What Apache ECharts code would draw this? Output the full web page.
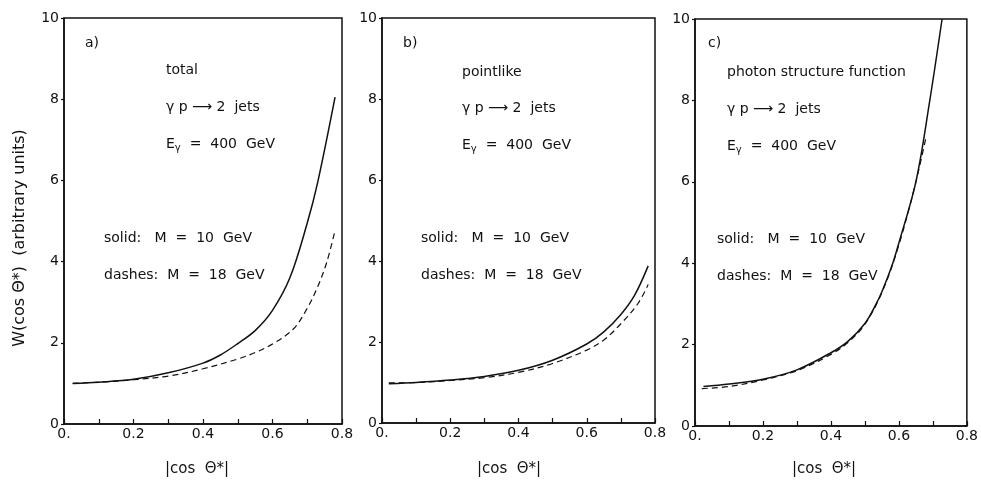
<!DOCTYPE html>
<html>
<head>
<meta charset="utf-8">
<script src="https://cdn.jsdelivr.net/npm/echarts@6/dist/echarts.min.js"></script>
<style>
  html, body { margin: 0; background: #fff; }
  #chart { width: 981px; height: 481px; }
</style>
</head>
<body>
<div id="chart"></div>
<script>
// axis ticks
const xTickValues = [0, 0.2, 0.4, 0.6, 0.8];
const yTickValues = [0, 2, 4, 6, 8, 10];

// a) total
const totalSolidX = [0.025, 0.1, 0.2, 0.3, 0.4, 0.45, 0.5, 0.55, 0.6, 0.65, 0.7, 0.73, 0.78];
const totalSolidY = [1.0, 1.03, 1.1, 1.26, 1.5, 1.7, 1.98, 2.3, 2.8, 3.6, 4.95, 5.95, 8.05];
const totalDashX = [0.025, 0.1, 0.2, 0.3, 0.4, 0.5, 0.55, 0.6, 0.66, 0.7, 0.73, 0.756, 0.778];
const totalDashY = [1.0, 1.03, 1.09, 1.18, 1.36, 1.6, 1.76, 1.97, 2.34, 2.85, 3.38, 3.98, 4.7];

// b) pointlike
const pointSolidX = [0.02, 0.1, 0.2, 0.3, 0.4, 0.5, 0.6, 0.65, 0.7, 0.74, 0.78];
const pointSolidY = [0.97, 1.0, 1.06, 1.15, 1.3, 1.55, 1.95, 2.25, 2.68, 3.15, 3.88];
const pointDashX = [0.02, 0.1, 0.2, 0.3, 0.4, 0.5, 0.6, 0.65, 0.7, 0.75, 0.78];
const pointDashY = [0.99, 1.0, 1.05, 1.12, 1.25, 1.47, 1.8, 2.05, 2.45, 2.95, 3.42];

// c) photon structure function
const structSolidX = [0.025, 0.1, 0.2, 0.3, 0.4, 0.45, 0.5, 0.53, 0.55, 0.58, 0.6, 0.65, 0.69, 0.727];
const structSolidY = [0.97, 1.03, 1.15, 1.38, 1.8, 2.08, 2.52, 2.95, 3.3, 3.95, 4.5, 6.0, 7.95, 10.0];
const structDashX = [0.02, 0.1, 0.2, 0.3, 0.4, 0.45, 0.5, 0.55, 0.6, 0.65, 0.68];
const structDashY = [0.92, 0.97, 1.13, 1.36, 1.76, 2.05, 2.5, 3.28, 4.45, 6.0, 7.1];

const panelLabels = ["a)", "b)", "c)"];
const panelTitles = ["total", "pointlike", "photon structure function"];

const zip = (xs, ys) => xs.map((x, i) => [x, ys[i]]);
const font = "DejaVu Sans";

const grids = [
  { left: 64, top: 18, width: 278, height: 406 },
  { left: 382, top: 18, width: 273, height: 405 },
  { left: 695, top: 19, width: 277, height: 407 },
].map((g) => ({ ...g, show: true, borderColor: "#111", borderWidth: 1.5 }));

const xAxes = grids.map((g, i) => ({
  type: "value",
  gridIndex: i,
  min: 0,
  max: 0.8,
  interval: 0.1,
  axisLine: { lineStyle: { color: "#111", width: 1.5 } },
  axisTick: { inside: true, length: 5, lineStyle: { color: "#111", width: 1.2 } },
  splitLine: { show: false },
  axisLabel: {
    margin: 3,
    color: "#111",
    fontFamily: font,
    fontSize: 14,
    formatter: (v) => {
      const t = xTickValues.find((x) => Math.abs(x - v) < 1e-6);
      if (t === undefined) return "";
      return t === 0 ? "0." : t.toFixed(1);
    },
  },
}));

const yAxes = grids.map((g, i) => ({
  type: "value",
  gridIndex: i,
  min: 0,
  max: 10,
  interval: 2,
  axisLine: { lineStyle: { color: "#111", width: 1.5 } },
  axisTick: { inside: false, length: 3, lineStyle: { color: "#111", width: 1.2 } },
  splitLine: { show: false },
  axisLabel: {
    margin: 5,
    color: "#111",
    fontFamily: font,
    fontSize: 14,
    formatter: (v) => (yTickValues.includes(v) ? String(v) : ""),
  },
}));

const curves = [
  [totalSolidX, totalSolidY, totalDashX, totalDashY],
  [pointSolidX, pointSolidY, pointDashX, pointDashY],
  [structSolidX, structSolidY, structDashX, structDashY],
];

const series = [];
curves.forEach(([sx, sy, dx, dy], i) => {
  series.push({
    type: "line",
    xAxisIndex: i,
    yAxisIndex: i,
    data: zip(sx, sy),
    smooth: 0.35,
    showSymbol: false,
    lineStyle: { color: "#111", width: 1.5 },
  });
  series.push({
    type: "line",
    xAxisIndex: i,
    yAxisIndex: i,
    data: zip(dx, dy),
    smooth: 0.35,
    showSymbol: false,
    lineStyle: { color: "#111", width: 1.2, type: [6, 4] },
  });
});

// annotation anchors: [label x, text x, legend x]
const noteX = [
  [85, 166, 104],
  [403, 462, 421],
  [708, 727, 717],
];
const noteY = [
  [43, 70, 107, 144, 238, 275],
  [43, 72, 108, 145, 238, 275],
  [43, 72, 109, 146, 239, 276],
];

const txt = (x, y, text, extra) => ({
  type: "text",
  x,
  y,
  style: {
    text,
    fill: "#111",
    font: `14px "${font}"`,
    verticalAlign: "middle",
    ...extra,
  },
});

const graphic = [];
noteX.forEach(([lx, tx, sx], i) => {
  const ys = noteY[i];
  graphic.push(txt(lx, ys[0], panelLabels[i]));
  graphic.push(txt(tx, ys[1], panelTitles[i]));
  graphic.push(txt(tx, ys[2], "γ p ⟶ 2  jets"));
  graphic.push(
    txt(tx, ys[3], "{e|E}{g|γ}{e|  =  400  GeV}", {
      rich: {
        e: { fontFamily: font, fontSize: 14, fill: "#111", lineHeight: 18, verticalAlign: "middle" },
        g: { fontFamily: font, fontSize: 10, fill: "#111", lineHeight: 18, verticalAlign: "bottom", padding: [6, 0, 0, 0] },
      },
    })
  );
  graphic.push(txt(sx, ys[4], "solid:   M  =  10  GeV"));
  graphic.push(txt(sx, ys[5], "dashes:  M  =  18  GeV"));
});

// axis titles
const yTitle = txt(20, 238, "W(cos Θ*)  (arbitrary units)", { align: "center", font: `16px "${font}"` });
yTitle.rotation = Math.PI / 2;
graphic.push(yTitle);
[197, 509, 824].forEach((cx) =>
  graphic.push(txt(cx, 469, "|cos  Θ*|", { align: "center", font: `15px "${font}"` }))
);

const chart = echarts.init(document.getElementById("chart"));
chart.setOption({
  animation: false,
  backgroundColor: "#fff",
  grid: grids,
  xAxis: xAxes,
  yAxis: yAxes,
  series,
  graphic,
});
</script>
</body>
</html>
